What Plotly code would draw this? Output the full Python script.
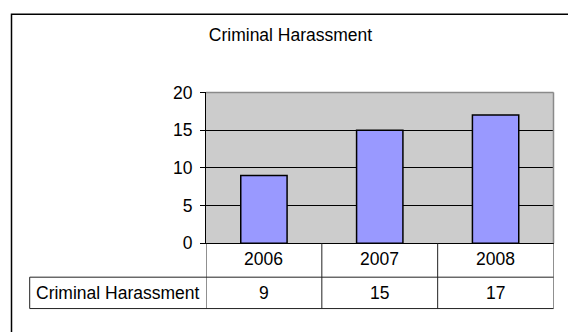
import plotly.graph_objects as go

# Chart data
title_text = "Criminal Harassment"
series_name = "Criminal Harassment"
years = ["2006", "2007", "2008"]
counts = [9, 15, 17]
y_ticks = [0, 5, 10, 15, 20]

W, H = 568, 332
FONT = "Liberation Sans, Arial, sans-serif"
FS = 17.5


def px(x):
    return x / W


def py(y):
    return 1 - y / H


# plot area (pixels from top-left)
PL, PR, PT, PB = 206, 553.5, 87.7, 248.3
ROW1_B = 284.3
ROW2_B = 317.7
LABEL_L = 29.7

fig = go.Figure(
    go.Bar(
        x=years,
        y=counts,
        name=series_name,
        width=0.4,
        marker=dict(color="#9999FF", line=dict(color="black", width=1.5)),
        showlegend=False,
    )
)

shapes = []
# outer frame (top and left edges visible)
shapes.append(dict(type="rect", xref="paper", yref="paper",
                   x0=px(11.5), x1=1.05, y0=-0.05, y1=py(4.5),
                   line=dict(color="black", width=1.5), layer="above"))
# plot border top and right (gray)
shapes.append(dict(type="line", xref="x domain", yref="y domain",
                   x0=0, x1=1, y0=1, y1=1,
                   line=dict(color="#8a8a8a", width=1.5), layer="above"))
shapes.append(dict(type="line", xref="x domain", yref="y domain",
                   x0=1, x1=1, y0=0, y1=1,
                   line=dict(color="#8a8a8a", width=1.5), layer="above"))

# data table grid
tline = dict(color="#222222", width=1)
for xb in [-0.5 + i for i in range(len(years) + 1)]:
    shapes.append(dict(type="line", xref="x", yref="paper",
                       x0=xb, x1=xb, y0=py(ROW2_B), y1=py(PB), line=tline))
for yb in [ROW1_B, ROW2_B]:
    shapes.append(dict(type="line", xref="paper", yref="paper",
                       x0=px(LABEL_L), x1=px(PR), y0=py(yb), y1=py(yb), line=tline))
shapes.append(dict(type="line", xref="paper", yref="paper",
                   x0=px(LABEL_L), x1=px(LABEL_L), y0=py(ROW2_B), y1=py(ROW1_B), line=tline))

annotations = []
row1_c = py((PB + ROW1_B) / 2 - 1.5)
row2_c = py((ROW1_B + ROW2_B) / 2)
for i, (yr, v) in enumerate(zip(years, counts)):
    annotations.append(dict(x=i, xref="x", y=row1_c, yref="paper", text=yr,
                            showarrow=False, xanchor="center", yanchor="middle",
                            font=dict(size=FS, color="black", family=FONT)))
    annotations.append(dict(x=i, xref="x", y=row2_c, yref="paper", text=str(v),
                            showarrow=False, xanchor="center", yanchor="middle",
                            font=dict(size=FS, color="black", family=FONT)))
annotations.append(dict(x=px((LABEL_L + PL) / 2), xref="paper", y=row2_c, yref="paper",
                        text=series_name, showarrow=False, xanchor="center", yanchor="middle",
                        font=dict(size=FS, color="black", family=FONT)))

fig.update_layout(
    width=W, height=H, autosize=False,
    margin=dict(l=0, r=0, t=0, b=0),
    paper_bgcolor="white",
    plot_bgcolor="#CCCCCC",
    font=dict(family=FONT, size=FS, color="black"),
    title=dict(text=title_text, x=px(290.5), xanchor="center",
               y=py(27), yanchor="middle", xref="paper", yref="paper",
               font=dict(size=FS, family=FONT, color="black")),
    xaxis=dict(domain=[px(PL), px(PR)], range=[-0.5, 2.5], type="category",
               showticklabels=False, ticks="", showgrid=False,
               showline=True, linecolor="black", linewidth=1, fixedrange=True),
    yaxis=dict(domain=[py(PB), py(PT)], range=[0, 20], tickvals=y_ticks,
               showgrid=True, gridcolor="black", gridwidth=1,
               zeroline=True, zerolinecolor="black", zerolinewidth=1,
               showline=True, linecolor="black", linewidth=1,
               ticks="outside", ticklen=5, tickcolor="black", tickwidth=1,
               ticklabelstandoff=4,
               tickfont=dict(size=FS, family=FONT, color="black"), fixedrange=True),
    shapes=shapes,
    annotations=annotations,
    bargap=0.6,
)

fig.write_html("out.html")
